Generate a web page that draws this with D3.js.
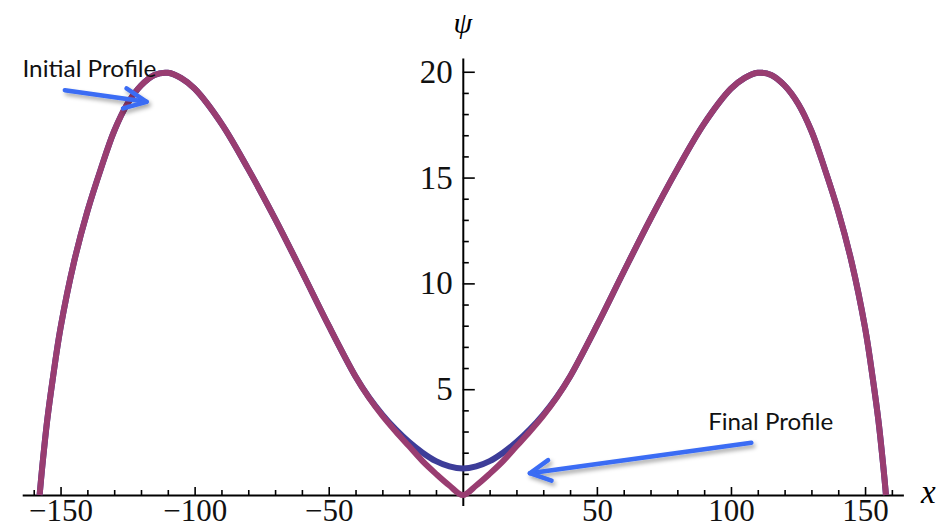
<!DOCTYPE html>
<html>
<head>
<meta charset="utf-8">
<script src="https://cdn.jsdelivr.net/npm/d3@7"></script>
<style>
  body { margin: 0; background: #fff; }
</style>
</head>
<body>
<div id="chart"></div>
<script>
// values
var xValues = [-157.8, -157, -155, -153, -150, -145, -140, -135, -130, -125, -120, -115, -110, -105, -100,
               -90, -80, -70, -60, -50, -40, -35, -30, -25, -20, -15, -10, -5, 0,
               5, 10, 15, 20, 25, 30, 35, 40, 50, 60, 70, 80, 90,
               100, 105, 110, 115, 120, 125, 130, 135, 140, 145, 150, 153, 155, 157, 157.8];

var initialPsi = [0, 1.1, 3.5, 5.4, 7.9, 11.0, 13.4, 15.4, 17.2, 18.5, 19.35, 19.85, 19.95, 19.7, 19.2,
                  17.55, 15.4, 13.05, 10.55, 8.0, 5.6, 4.62, 3.8, 3.1, 2.5, 2.0, 1.6, 1.35, 1.25,
                  1.35, 1.6, 2.0, 2.5, 3.1, 3.8, 4.62, 5.6, 8.0, 10.55, 13.05, 15.4, 17.55,
                  19.2, 19.7, 19.95, 19.85, 19.35, 18.5, 17.2, 15.4, 13.4, 11.0, 7.9, 5.4, 3.5, 1.1, 0];

var finalPsi = [0, 1.1, 3.5, 5.4, 7.9, 11.0, 13.4, 15.4, 17.2, 18.5, 19.35, 19.85, 19.95, 19.7, 19.2,
                17.55, 15.4, 13.05, 10.55, 8.0, 5.6, 4.6, 3.75, 3.0, 2.3, 1.6, 1.0, 0.45, 0,
                0.45, 1.0, 1.6, 2.3, 3.0, 3.75, 4.6, 5.6, 8.0, 10.55, 13.05, 15.4, 17.55,
                19.2, 19.7, 19.95, 19.85, 19.35, 18.5, 17.2, 15.4, 13.4, 11.0, 7.9, 5.4, 3.5, 1.1, 0];

var xTickLabels = [-150, -100, -50, 50, 100, 150];
var xMinorTicks = [-160, -140, -130, -120, -110, -90, -80, -70, -60, -40, -30, -20, -10,
                   10, 20, 30, 40, 60, 70, 80, 90, 110, 120, 130, 140, 160];
var yTickLabels = [5, 10, 15, 20];
var yMinorTicks = [1, 2, 3, 4, 6, 7, 8, 9, 11, 12, 13, 14, 16, 17, 18, 19];

document.addEventListener('DOMContentLoaded', function(e) {
  var svg = d3.select('#chart')
              .append('svg')
              .attr('width', 941)
              .attr('height', 529)
              .style('display', 'block');

  var x = d3.scaleLinear().domain([-164.3, 164.3]).range([22.2, 903.4]);
  var y = d3.scaleLinear().domain([-0.5, 20.65]).range([505.6, 58]);

  var serif = '"Liberation Serif", "Times New Roman", serif';

  // shadow for the annotation arrows
  svg.append('defs').append('filter')
     .attr('id', 'shadow')
     .attr('filterUnits', 'userSpaceOnUse')
     .attr('x', 0).attr('y', 0).attr('width', 941).attr('height', 529)
     .append('feDropShadow')
     .attr('dx', 2).attr('dy', 3)
     .attr('stdDeviation', 2)
     .attr('flood-color', '#000')
     .attr('flood-opacity', 0.35);

  // x axis: ticks point up, labels below
  var xAxis = svg.append('g')
                 .attr('transform', 'translate(0,' + y(0) + ')')
                 .call(d3.axisBottom(x).tickValues(xTickLabels).tickSizeInner(-8).tickSizeOuter(0)
                         .tickPadding(0).tickFormat(d3.format('d')));
  xAxis.select('.domain').attr('stroke-width', 2);
  xAxis.selectAll('.tick line').attr('stroke-width', 1.6);
  xAxis.selectAll('.tick text')
       .attr('y', 26).attr('dy', null)
       .attr('fill', '#111')
       .style('font-family', serif)
       .style('font-size', '31px');

  var xMinor = svg.append('g')
                  .attr('transform', 'translate(0,' + y(0) + ')')
                  .call(d3.axisBottom(x).tickValues(xMinorTicks).tickSizeInner(-5).tickSizeOuter(0).tickFormat(''));
  xMinor.select('.domain').remove();
  xMinor.selectAll('.tick line').attr('stroke-width', 1.6);

  // y axis: ticks point right, labels left
  var yAxis = svg.append('g')
                 .attr('transform', 'translate(' + x(0) + ',0)')
                 .call(d3.axisLeft(y).tickValues(yTickLabels).tickSizeInner(-12).tickSizeOuter(0)
                         .tickPadding(10));
  yAxis.select('.domain').attr('stroke-width', 2);
  yAxis.selectAll('.tick line').attr('stroke-width', 1.6);
  yAxis.selectAll('.tick text')
       .attr('fill', '#111')
       .style('font-family', serif)
       .style('font-size', '33px');

  var yMinor = svg.append('g')
                  .attr('transform', 'translate(' + x(0) + ',0)')
                  .call(d3.axisLeft(y).tickValues(yMinorTicks).tickSizeInner(-6).tickSizeOuter(0).tickFormat(''));
  yMinor.select('.domain').remove();
  yMinor.selectAll('.tick line').attr('stroke-width', 1.6);

  // axis names
  svg.append('text')
     .attr('x', x(0))
     .attr('y', 33)
     .attr('text-anchor', 'middle')
     .style('font-family', serif)
     .style('font-style', 'italic')
     .style('font-size', '30px')
     .text('ψ');

  svg.append('text')
     .attr('x', 921)
     .attr('y', 503)
     .style('font-family', serif)
     .style('font-style', 'italic')
     .style('font-size', '33px')
     .text('x');

  // the two profiles
  var line = d3.line()
               .x(function(d, i) { return x(xValues[i]); })
               .y(function(d) { return y(d); })
               .curve(d3.curveCatmullRom.alpha(0.5));

  svg.append('path')
     .attr('d', line(initialPsi))
     .attr('fill', 'none')
     .attr('stroke', '#3d3d99')
     .attr('stroke-width', 6);

  svg.append('path')
     .attr('d', line(finalPsi))
     .attr('fill', 'none')
     .attr('stroke', '#993d71')
     .attr('stroke-width', 6);

  // annotations (positions in data units)
  var notes = [
    { text: 'Initial Profile', at: [-164.2, 19.75], width: 134,
      tail: [-148.4, 19.13], tip: [-117.9, 18.58], barbs: [[-125.4, 19.21], [-126.7, 18.27]] },
    { text: 'Final Profile', at: [91.5, 3.09], width: 125,
      tail: [107.6, 2.47], tip: [25.0, 1.03], barbs: [[31.8, 1.65], [33.1, 0.68]] }
  ];

  notes.forEach(function(n) {
    svg.append('text')
       .attr('x', x(n.at[0]))
       .attr('y', y(n.at[1]))
       .attr('textLength', n.width)
       .attr('lengthAdjust', 'spacingAndGlyphs')
       .style('font-family', 'Lato, "Open Sans", sans-serif')
       .style('font-size', '24px')
       .attr('fill', '#111')
       .text(n.text);

    var arrow = svg.append('g').attr('filter', 'url(#shadow)');
    arrow.append('line')
         .attr('x1', x(n.tail[0])).attr('y1', y(n.tail[1]))
         .attr('x2', x(n.tip[0])).attr('y2', y(n.tip[1]))
         .attr('stroke', '#3a6cf4')
         .attr('stroke-width', 4.5)
         .attr('stroke-linecap', 'round');
    arrow.append('polyline')
         .attr('points', [n.barbs[0], n.tip, n.barbs[1]].map(function(p) { return x(p[0]) + ',' + y(p[1]); }).join(' '))
         .attr('fill', 'none')
         .attr('stroke', '#3a6cf4')
         .attr('stroke-width', 4.5)
         .attr('stroke-linecap', 'round')
         .attr('stroke-linejoin', 'round');
  });
});
</script>
</body>
</html>
